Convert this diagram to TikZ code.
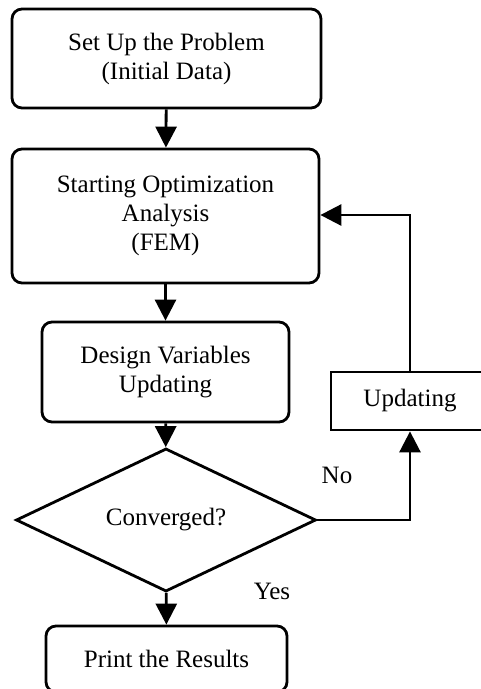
\documentclass[tikz,border=0pt]{standalone}
\usepackage{fontspec}
\setmainfont{Liberation Serif}
\usetikzlibrary{arrows.meta,shapes.geometric}
\begin{document}
\begin{tikzpicture}[x=1pt,y=-1pt,
  every node/.style={font=\fontsize{25}{29}\selectfont},
  rbox/.style={draw,line width=2.8pt,rounded corners=10pt,align=center,inner sep=0pt},
  sbox/.style={draw,line width=2.8pt,align=center,inner sep=0pt},
  dbox/.style={draw,line width=2.8pt,diamond,inner sep=0pt},
  arr/.style={line width=2.8pt,-{Triangle[length=21pt,width=21pt]}},
  lbl/.style={inner sep=0pt}]
\useasboundingbox (0,0) rectangle (481,689);
\clip (0,0) rectangle (481,689);
\node[rbox,minimum width=309pt,minimum height=99pt] (b1) at (166.5,58.5) {Set Up the Problem\\(Initial Data)};
\node[rbox,minimum width=307pt,minimum height=134pt] (b2) at (165.5,216) {Starting Optimization\\Analysis\\(FEM)};
\node[rbox,minimum width=247pt,minimum height=100pt] (b3) at (165.5,372) {Design Variables\\Updating};
\node[dbox,minimum width=300pt,minimum height=106pt] (d) at (166,520) {Converged?};
\node[rbox,minimum width=241pt,minimum height=66pt] (b4) at (166.5,659) {Print the Results};
\node[sbox,minimum width=158pt,minimum height=58pt] (up) at (410,401) {Updating};
\coordinate (fb) at (410,215);
\node[lbl] (no) at (337,475) {No};
\node[lbl] (yes) at (272,591) {Yes};
\draw[arr] (b1) -- (b2);
\draw[arr] (b2) -- (b3);
\draw[arr] (b3) -- (d);
\draw[arr] (d) -- (b4);
\draw[arr] (d.east) -| (up.south);
\draw[arr] (up.north) -- (fb) -- (b2.east |- fb);
\end{tikzpicture}
\end{document}
